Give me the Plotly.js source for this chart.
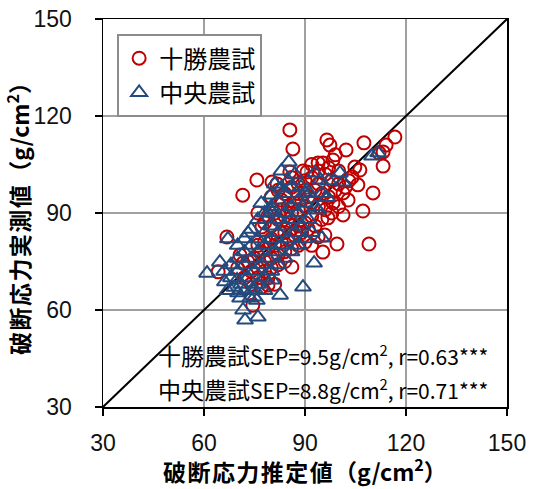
<!DOCTYPE html>
<html>
<head>
<meta charset="utf-8">
<script src="https://cdn.plot.ly/plotly-3.0.1.min.js"></script>
<style>html,body{margin:0;padding:0;background:#fff;}#chart{width:534px;height:489px;}</style>
</head>
<body>
<div id="chart"></div>
<script>
// 十勝農試 (circles): estimated (x = 推定値, y = 実測値)
const tokachiX = [85.5,86.4,85.5,89.4,75.7,71.5,80.2,81.7,76.0,96.5,97.4,102.2,107.5,116.7,114.1,113.2,112.0,113.2,98.3,93.9,95.3,90.6,104.8,106.3,104.0,105.7,110.2,101.3,102.8,107.2,101.3,96.8,98.3,109.0,95.3,99.5,95.9,93.9,66.8,74.5,79.0,70.7,71.6,64.2,86.1,77.2,
  80,82,84,86,88,90,92,94,96,98,100,99,97,95,93,91,89,87,85,83,81,79,78,80,82,84,86,88,90,92,94,96,98,100,102,103,92,90,88,86,84,82,80,78,76,77,79,81,83,85,87,89,91,93,95,75,73,74,76,78,80,82,84,86,88,90,92,72,74,76,78,80,82,84,79,77,81,70,88,86,90,94,97,99,100,83,85,92];
const tokachiY = [115.7,109.8,102.7,103.0,100.2,95.5,99.6,99.0,90.0,112.6,111.0,109.5,111.7,113.5,111.0,108.9,108.6,104.5,106.4,105.5,105.5,102.7,104.2,103.3,101.1,98.7,96.2,96.2,94.0,90.6,89.4,88.5,93.1,80.4,77.9,80.4,83.2,82.6,82.6,61.5,67.7,77.0,74.5,71.8,73.3,85.7,
  95,97,96,98,99,100,101,103,102,100,99,97,95,96,97,95,94,93,92,91,90,89,87,86,88,89,90,91,92,93,92,91,90,92,98,100,89,87,86,85,84,83,82,81,80,78,79,80,81,82,83,84,85,86,88,76,75,72,73,75,76,77,78,79,80,81,80,70,68,70,72,73,74,75,70,67,68,73,96,101,97,99,104,108,103,94,87,105];
// 中央農試 (triangles)
const chuoX = [85.2,79.9,82.9,79.9,88.8,109.9,111.7,100.4,101.3,93.0,94.5,96.5,93.9,90.6,90.0,60.9,64.7,67.1,71.6,72.2,76.0,82.6,89.4,92.7,75.7,80.2,73.1,69.8,66.2,70.1,74.3,70.7,73.7,75.1,95.0,80.2,
  66,68,70,72,74,76,78,80,82,84,86,88,90,68,70,72,74,76,78,80,82,84,86,88,71,73,75,77,79,81,83,85,87,89,76,78,80,82,84,86,88,90,74,76,78,80,82,84,86,72,69,67,75,78,91,93,95,97,92,70,72,85,87,81,77,83];
const chuoY = [105.8,95.6,97.7,90.9,98.0,107.6,108.6,102.4,99.6,102.4,100.2,94.8,90.9,97.1,93.1,71.4,74.8,82.0,60.0,56.9,57.8,64.6,67.1,74.5,63.0,69.3,83.8,69.3,68.7,65.3,66.2,63.7,63.7,66.2,82.3,90.3,
  72,74,76,78,80,82,84,86,88,90,92,94,96,70,72,74,76,78,80,82,84,86,88,90,68,70,72,74,76,78,80,82,84,86,68,70,72,74,76,78,80,82,85,88,90,92,94,96,98,66,67,66,64,66,88,92,96,100,84,80,82,100,102,99,93,103];
const lineXY = [30, 150];
const tickVals = [30, 60, 90, 120, 150];
const seriesNames = ['十勝農試', '中央農試'];
const noteSites = ['十勝農試', '中央農試'];
const noteStats = ['SEP=9.5g/cm<sup>2</sup>, r=0.63***', 'SEP=8.8g/cm<sup>2</sup>, r=0.71***'];
const xTitleText = '破断応力推定値（g/cm<sup>2</sup>）';
const yTitleText = '破断応力実測値（g/cm<sup>2</sup>）';

const jp = '"Noto Sans CJK JP", "Noto Sans", sans-serif';
const HS = '\u200A';
function spaced(s) {
  // add hair spaces between the CJK characters of a title
  const i = s.indexOf('（');
  return s.slice(0, i).split('').join(HS) + HS + s.slice(i);
}

const traces = [
  {x: lineXY, y: lineXY, mode: 'lines', line: {color: '#000', width: 2}, showlegend: false, hoverinfo: 'skip'},
  {x: tokachiX, y: tokachiY, mode: 'markers', name: seriesNames[0],
   marker: {symbol: 'circle-open', size: 13, color: '#C00000', line: {color: '#C00000', width: 2}}},
  {x: chuoX, y: chuoY, mode: 'markers', name: seriesNames[1],
   marker: {symbol: 'triangle-up-open', size: 14, color: '#244A7D', line: {color: '#244A7D', width: 2}}}
];

const axisCommon = {
  range: [30, 150], tickvals: tickVals, ticks: 'outside', ticklen: 7, tickwidth: 1.5, tickcolor: '#000',
  showline: true, linecolor: '#000', linewidth: 1.5, mirror: true,
  showgrid: true, gridcolor: '#A0A0A0', gridwidth: 2, zeroline: false,
  tickfont: {family: '"Liberation Sans", Arial, sans-serif', size: 23, color: '#111'},
  ticklabelstandoff: 18
};

const annotations = noteSites.map((s, i) => ({
  xref: 'paper', yref: 'paper', x: 0.957, y: i === 0 ? 0.134 : 0.046, xanchor: 'right', yanchor: 'middle',
  text: '<span style="font-size:23px">' + s + '</span>' + noteStats[i], showarrow: false, font: {family: jp, size: 21, color: '#000'}
}));
// x-axis title, placed as an annotation for exact vertical placement
annotations.push({
  xref: 'paper', yref: 'paper', x: 0.5, y: -0.162, xanchor: 'center', yanchor: 'middle',
  text: '<b>' + spaced(xTitleText) + '</b>', showarrow: false, font: {family: jp, size: 23, color: '#000'}
});

const layout = {
  width: 534, height: 489,
  margin: {l: 103, r: 27, t: 19, b: 82},
  paper_bgcolor: '#fff', plot_bgcolor: '#fff',
  showlegend: true,
  legend: {x: 0.035, y: 0.961, xanchor: 'left', yanchor: 'top', bgcolor: '#fff', bordercolor: '#8c8c8c', borderwidth: 2,
    font: {family: jp, size: 24, color: '#000'}, tracegroupgap: 2, itemwidth: 30},
  xaxis: Object.assign({}, axisCommon, {ticklabelstandoff: 8}),
  yaxis: Object.assign({}, axisCommon, {title: {text: '<b>' + spaced(yTitleText) + '</b>', font: {family: jp, size: 23, color: '#000'}, standoff: 2}}),
  annotations: annotations
};

Plotly.newPlot('chart', traces, layout, {displayModeBar: false, staticPlot: true});
</script>
</body>
</html>
